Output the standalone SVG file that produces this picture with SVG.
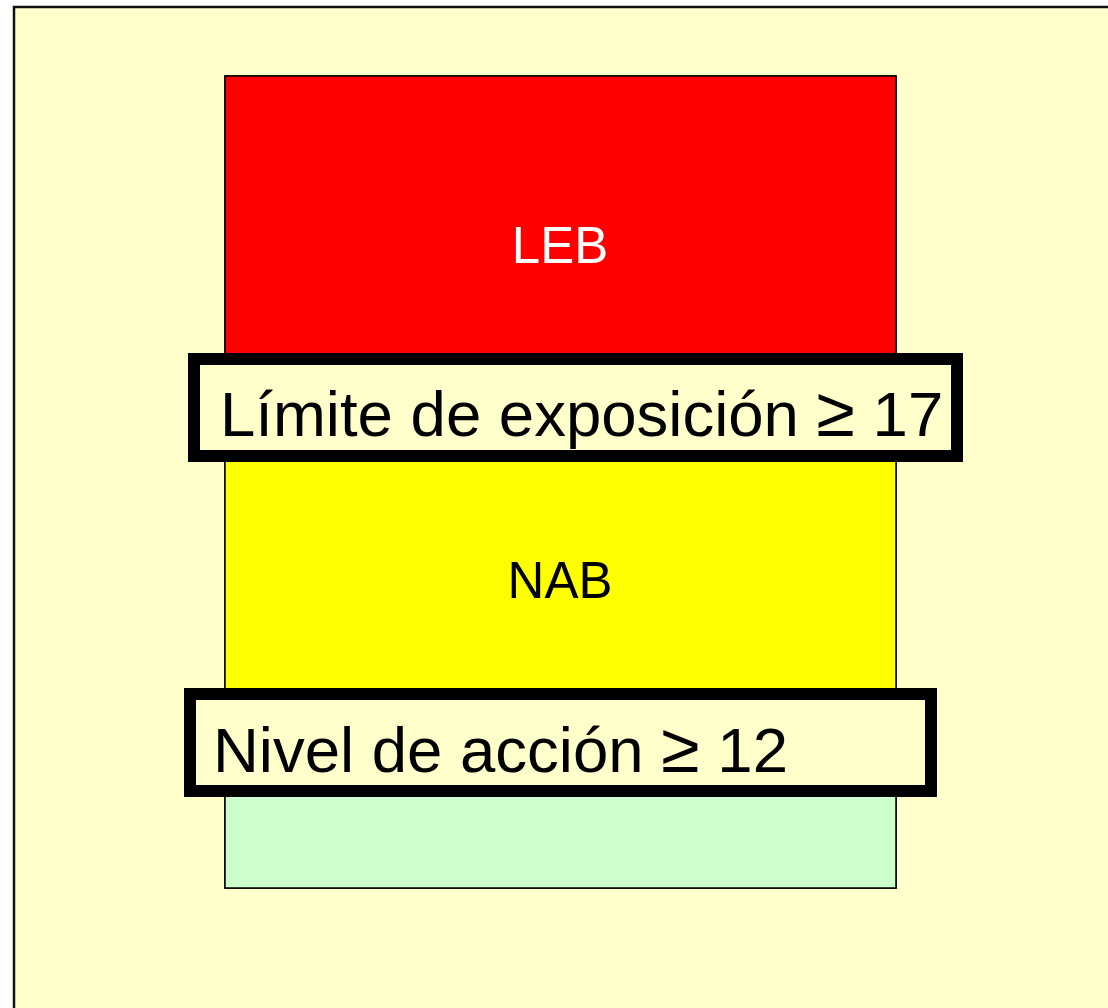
<svg xmlns="http://www.w3.org/2000/svg" width="1108" height="1008" viewBox="0 0 1108 1008">
<style>
.band{stroke:#000;stroke-width:1.5}
.frame{fill:#FFFFCC;stroke:#000;stroke-width:12}
.big{font-family:"Liberation Sans",Arial,sans-serif;font-size:63.5px;fill:#000}
.ge{font-size:70px}
.lbl{font-family:"Liberation Sans",Arial,sans-serif;font-size:51px;text-anchor:middle}
</style>
<rect x="0" y="0" width="1108" height="1008" fill="#FFFFFF"/>
<rect id="page" x="14" y="7" width="1110" height="1020" fill="#FFFFCC" stroke="#111" stroke-width="2.5"/>
<g id="column">
<rect x="225" y="76" width="671" height="812" fill="none" stroke="#000" stroke-width="1.5"/>
<g id="leb"><rect class="band" x="225" y="76" width="671" height="331" fill="#FF0000"/><text class="lbl" x="560" y="263" fill="#FFFFFF">LEB</text></g>
<g id="nab"><rect class="band" x="225" y="407" width="671" height="335" fill="#FFFF00"/><text class="lbl" x="560" y="598" fill="#000">NAB</text></g>
<g id="low"><rect class="band" x="225" y="742" width="671" height="146" fill="#CCFFCC"/></g>
</g>
<g id="limite"><rect class="frame" x="194" y="359" width="763" height="97"/><text class="big" x="220" y="436">Límite de exposición <tspan class="ge">≥</tspan> 17</text></g>
<g id="nivel"><rect class="frame" x="190" y="694" width="741" height="97"/><text class="big" x="213" y="772">Nivel de acción <tspan class="ge">≥</tspan> 12</text></g>
<g id="connectors"/>
</svg>
